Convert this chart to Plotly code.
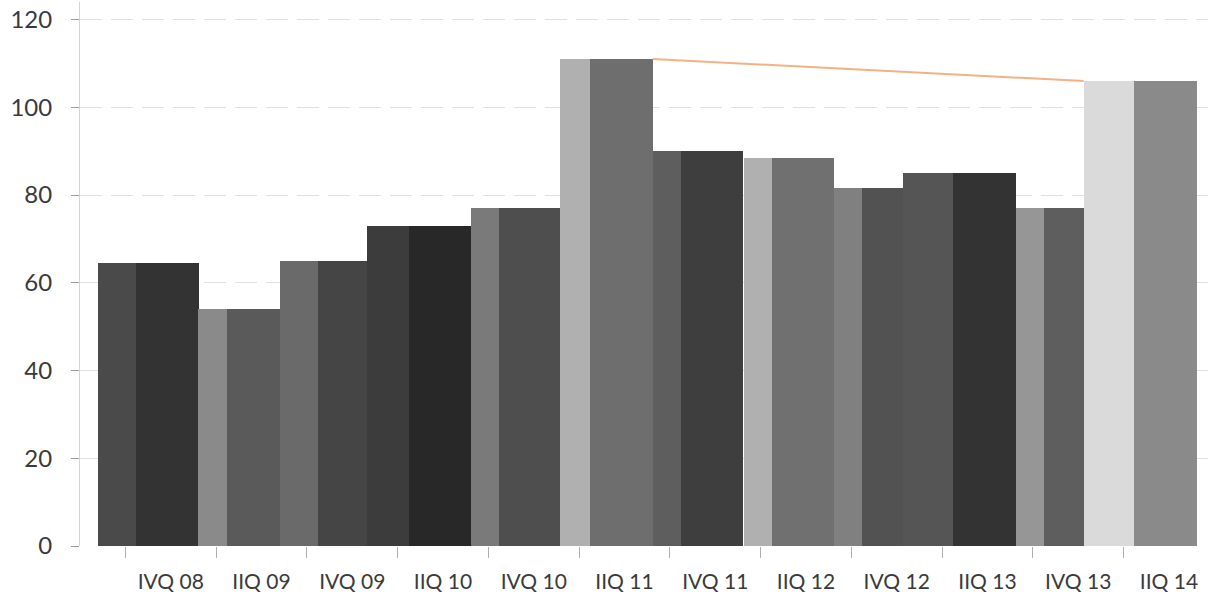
import plotly.graph_objects as go

# Quarterly index values
quarters = ["IVQ 08", "IIQ 09", "IVQ 09", "IIQ 10", "IVQ 10", "IIQ 11",
            "IVQ 11", "IIQ 12", "IVQ 12", "IIQ 13", "IVQ 13", "IIQ 14"]
values = [64.5, 54, 65, 73, 77, 111, 90, 88.5, 81.5, 85, 77, 106]
y_ticks = [0, 20, 40, 60, 80, 100, 120]

# Styling for the pseudo-3D columns: a lighter side face left of a darker front face
front_colors = ["#333333", "#5a5a5a", "#454545", "#282828", "#4e4e4e", "#6e6e6e",
                "#3e3e3e", "#707070", "#525252", "#333333", "#5e5e5e", "#8a8a8a"]
side_colors = ["#4a4a4a", "#8a8a8a", "#6a6a6a", "#3c3c3c", "#7a7a7a", "#b0b0b0",
               "#5e5e5e", "#b0b0b0", "#808080", "#555555", "#969696", "#dadada"]
side_widths = [0.42, 0.32, 0.42, 0.46, 0.31, 0.33, 0.31, 0.30, 0.31, 0.55, 0.31, 0.56]
FRONT_OFFSET = -0.38
FRONT_WIDTH = 0.69

pos = list(range(len(quarters)))

fig = go.Figure()

# Draw each column (side, then front) in order so later columns overlap earlier ones
for i, q in enumerate(quarters):
    fig.add_trace(go.Bar(
        x=[pos[i]], y=[values[i]],
        offset=FRONT_OFFSET - side_widths[i], width=side_widths[i],
        marker=dict(color=side_colors[i], line=dict(width=0)),
        showlegend=False, hoverinfo="skip",
    ))
    fig.add_trace(go.Bar(
        x=[pos[i]], y=[values[i]],
        offset=FRONT_OFFSET, width=FRONT_WIDTH,
        marker=dict(color=front_colors[i], line=dict(width=0)),
        name=q, showlegend=False,
    ))

# Orange trend line from the IIQ 11 peak to the IIQ 14 column
i0, i1 = quarters.index("IIQ 11"), quarters.index("IIQ 14")
fig.add_trace(go.Scatter(
    x=[pos[i0] + FRONT_OFFSET + FRONT_WIDTH, pos[i1] + FRONT_OFFSET - side_widths[i1]],
    y=[values[i0], values[i1]],
    mode="lines", line=dict(color="#f4b183", width=2),
    showlegend=False, hoverinfo="skip",
))

fig.update_layout(
    width=1208, height=595,
    margin=dict(l=80, r=0, t=2, b=49),
    paper_bgcolor="white", plot_bgcolor="white",
    barmode="overlay", bargap=0,
    font=dict(family="Lato, 'Open Sans', sans-serif", color="#404040"),
)

fig.update_xaxes(
    range=[-1.0, 11.43],
    tickmode="array", tickvals=pos, ticktext=quarters,
    ticks="", showgrid=False, zeroline=False, showline=False,
    tickfont=dict(size=21, color="#3a3a3a"),
    ticklabelstandoff=21,
    minor=dict(tickmode="array", tickvals=[p - 0.5 for p in pos],
               ticks="outside", ticklen=11, tickcolor="#b0b0b0", tickwidth=1,
               showgrid=False),
)

fig.update_yaxes(
    range=[0, 124],
    tickmode="array", tickvals=y_ticks,
    ticks="outside", ticklen=8, tickcolor="#a0a0a0",
    showline=True, linecolor="#d4d4d4", linewidth=1,
    showgrid=True, gridcolor="#e0e0e0", griddash="22px,9px", gridwidth=1,
    zeroline=False,
    tickfont=dict(size=24, color="#3a3a3a"),
    ticklabelstandoff=14,
)

fig.write_html("out.html")
